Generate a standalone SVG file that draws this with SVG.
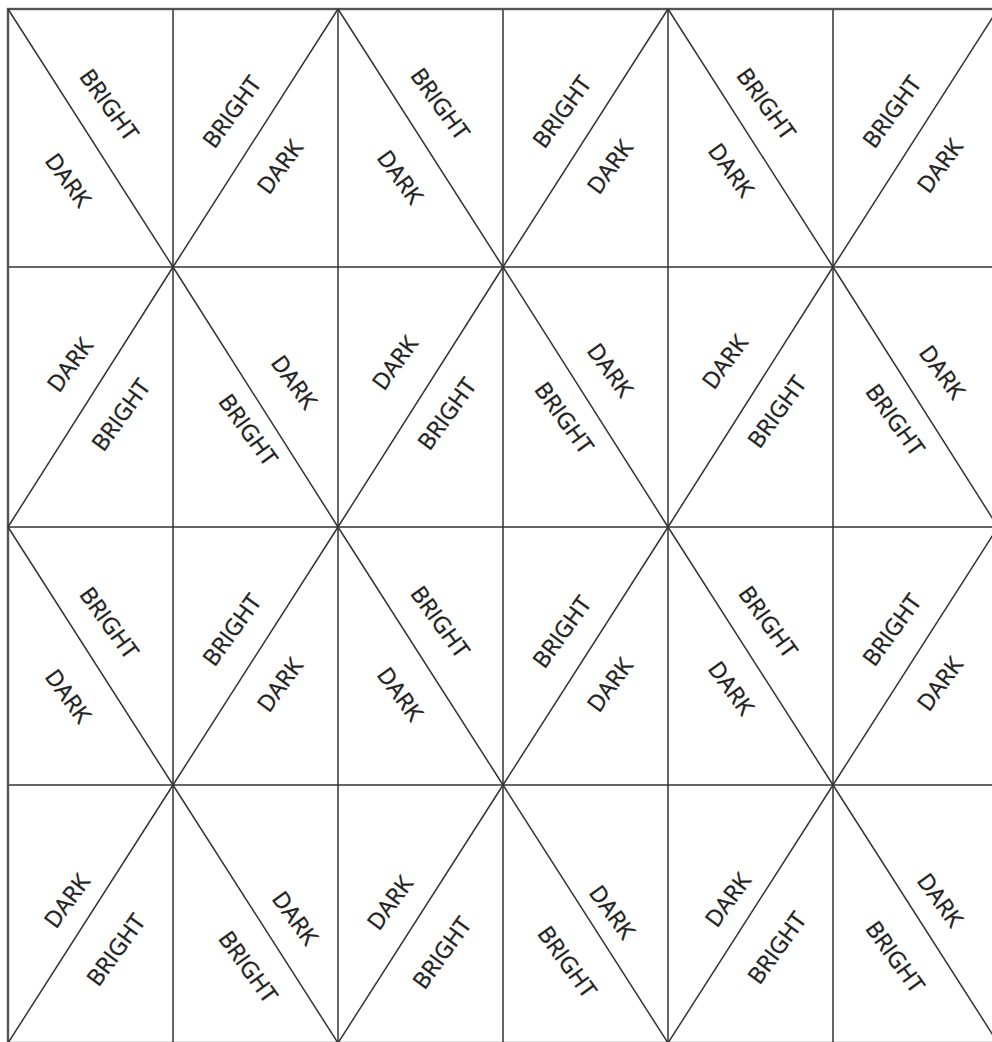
<svg xmlns="http://www.w3.org/2000/svg" width="992" height="1042" viewBox="0 0 992 1042">
<style>
.ln{stroke:#333;stroke-width:1.5;fill:none}
.bd{stroke:#555;stroke-width:2.4;fill:none}
.t{font-family:"Open Sans","Noto Sans","Liberation Sans",sans-serif;font-size:23px;fill:#222;stroke:#222;stroke-width:0.35;text-anchor:middle}
</style>
<rect width="992" height="1042" fill="#fff"/>
<g id="connectors">
<g id="grid">
<line class="ln" x1="8" y1="267" x2="998" y2="267"/>
<line class="ln" x1="8" y1="527" x2="998" y2="527"/>
<line class="ln" x1="8" y1="785" x2="998" y2="785"/>
<line class="ln" x1="173" y1="9" x2="173" y2="1043"/>
<line class="ln" x1="338" y1="9" x2="338" y2="1043"/>
<line class="ln" x1="503" y1="9" x2="503" y2="1043"/>
<line class="ln" x1="668" y1="9" x2="668" y2="1043"/>
<line class="ln" x1="833" y1="9" x2="833" y2="1043"/>
<rect class="bd" x="8" y="9" width="990" height="1034"/>
</g>
<g id="diagonals">
<line class="ln" x1="8" y1="9" x2="173" y2="267"/>
<line class="ln" x1="173" y1="267" x2="338" y2="9"/>
<line class="ln" x1="338" y1="9" x2="503" y2="267"/>
<line class="ln" x1="503" y1="267" x2="668" y2="9"/>
<line class="ln" x1="668" y1="9" x2="833" y2="267"/>
<line class="ln" x1="833" y1="267" x2="998" y2="9"/>
<line class="ln" x1="8" y1="527" x2="173" y2="267"/>
<line class="ln" x1="173" y1="267" x2="338" y2="527"/>
<line class="ln" x1="338" y1="527" x2="503" y2="267"/>
<line class="ln" x1="503" y1="267" x2="668" y2="527"/>
<line class="ln" x1="668" y1="527" x2="833" y2="267"/>
<line class="ln" x1="833" y1="267" x2="998" y2="527"/>
<line class="ln" x1="8" y1="527" x2="173" y2="785"/>
<line class="ln" x1="173" y1="785" x2="338" y2="527"/>
<line class="ln" x1="338" y1="527" x2="503" y2="785"/>
<line class="ln" x1="503" y1="785" x2="668" y2="527"/>
<line class="ln" x1="668" y1="527" x2="833" y2="785"/>
<line class="ln" x1="833" y1="785" x2="998" y2="527"/>
<line class="ln" x1="8" y1="1043" x2="173" y2="785"/>
<line class="ln" x1="173" y1="785" x2="338" y2="1043"/>
<line class="ln" x1="338" y1="1043" x2="503" y2="785"/>
<line class="ln" x1="503" y1="785" x2="668" y2="1043"/>
<line class="ln" x1="668" y1="1043" x2="833" y2="785"/>
<line class="ln" x1="833" y1="785" x2="998" y2="1043"/>
</g>
</g>
<g id="cell-r0c0"><text class="t" y="8" transform="translate(109,105) rotate(54)">BRIGHT</text><text class="t" y="8" transform="translate(68,180) rotate(54)">DARK</text></g>
<g id="cell-r0c1"><text class="t" y="8" transform="translate(232,112) rotate(-54)">BRIGHT</text><text class="t" y="8" transform="translate(280,167) rotate(-54)">DARK</text></g>
<g id="cell-r0c2"><text class="t" y="8" transform="translate(440,104) rotate(54)">BRIGHT</text><text class="t" y="8" transform="translate(400,177) rotate(54)">DARK</text></g>
<g id="cell-r0c3"><text class="t" y="8" transform="translate(562,112) rotate(-54)">BRIGHT</text><text class="t" y="8" transform="translate(610,167) rotate(-54)">DARK</text></g>
<g id="cell-r0c4"><text class="t" y="8" transform="translate(766,104) rotate(54)">BRIGHT</text><text class="t" y="8" transform="translate(731,170) rotate(54)">DARK</text></g>
<g id="cell-r0c5"><text class="t" y="8" transform="translate(892,112) rotate(-54)">BRIGHT</text><text class="t" y="8" transform="translate(940,166) rotate(-54)">DARK</text></g>
<g id="cell-r1c0"><text class="t" y="8" transform="translate(70,365) rotate(-54)">DARK</text><text class="t" y="8" transform="translate(121,415) rotate(-54)">BRIGHT</text></g>
<g id="cell-r1c1"><text class="t" y="8" transform="translate(294,382) rotate(54)">DARK</text><text class="t" y="8" transform="translate(248,430) rotate(54)">BRIGHT</text></g>
<g id="cell-r1c2"><text class="t" y="8" transform="translate(395,363) rotate(-54)">DARK</text><text class="t" y="8" transform="translate(447,414) rotate(-54)">BRIGHT</text></g>
<g id="cell-r1c3"><text class="t" y="8" transform="translate(610,370) rotate(54)">DARK</text><text class="t" y="8" transform="translate(564,418) rotate(54)">BRIGHT</text></g>
<g id="cell-r1c4"><text class="t" y="8" transform="translate(725,362) rotate(-54)">DARK</text><text class="t" y="8" transform="translate(777,412) rotate(-54)">BRIGHT</text></g>
<g id="cell-r1c5"><text class="t" y="8" transform="translate(942,372) rotate(54)">DARK</text><text class="t" y="8" transform="translate(895,420) rotate(54)">BRIGHT</text></g>
<g id="cell-r2c0"><text class="t" y="8" transform="translate(109,623) rotate(54)">BRIGHT</text><text class="t" y="8" transform="translate(68,696) rotate(54)">DARK</text></g>
<g id="cell-r2c1"><text class="t" y="8" transform="translate(232,630) rotate(-54)">BRIGHT</text><text class="t" y="8" transform="translate(280,685) rotate(-54)">DARK</text></g>
<g id="cell-r2c2"><text class="t" y="8" transform="translate(440,622) rotate(54)">BRIGHT</text><text class="t" y="8" transform="translate(400,694) rotate(54)">DARK</text></g>
<g id="cell-r2c3"><text class="t" y="8" transform="translate(562,632) rotate(-54)">BRIGHT</text><text class="t" y="8" transform="translate(610,685) rotate(-54)">DARK</text></g>
<g id="cell-r2c4"><text class="t" y="8" transform="translate(768,622) rotate(54)">BRIGHT</text><text class="t" y="8" transform="translate(731,688) rotate(54)">DARK</text></g>
<g id="cell-r2c5"><text class="t" y="8" transform="translate(892,630) rotate(-54)">BRIGHT</text><text class="t" y="8" transform="translate(940,684) rotate(-54)">DARK</text></g>
<g id="cell-r3c0"><text class="t" y="8" transform="translate(67,901) rotate(-54)">DARK</text><text class="t" y="8" transform="translate(116,950) rotate(-54)">BRIGHT</text></g>
<g id="cell-r3c1"><text class="t" y="8" transform="translate(295,918) rotate(54)">DARK</text><text class="t" y="8" transform="translate(248,967) rotate(54)">BRIGHT</text></g>
<g id="cell-r3c2"><text class="t" y="8" transform="translate(390,903) rotate(-54)">DARK</text><text class="t" y="8" transform="translate(442,953) rotate(-54)">BRIGHT</text></g>
<g id="cell-r3c3"><text class="t" y="8" transform="translate(612,912) rotate(54)">DARK</text><text class="t" y="8" transform="translate(567,962) rotate(54)">BRIGHT</text></g>
<g id="cell-r3c4"><text class="t" y="8" transform="translate(728,900) rotate(-54)">DARK</text><text class="t" y="8" transform="translate(777,948) rotate(-54)">BRIGHT</text></g>
<g id="cell-r3c5"><text class="t" y="8" transform="translate(940,900) rotate(54)">DARK</text><text class="t" y="8" transform="translate(895,957) rotate(54)">BRIGHT</text></g>
</svg>
